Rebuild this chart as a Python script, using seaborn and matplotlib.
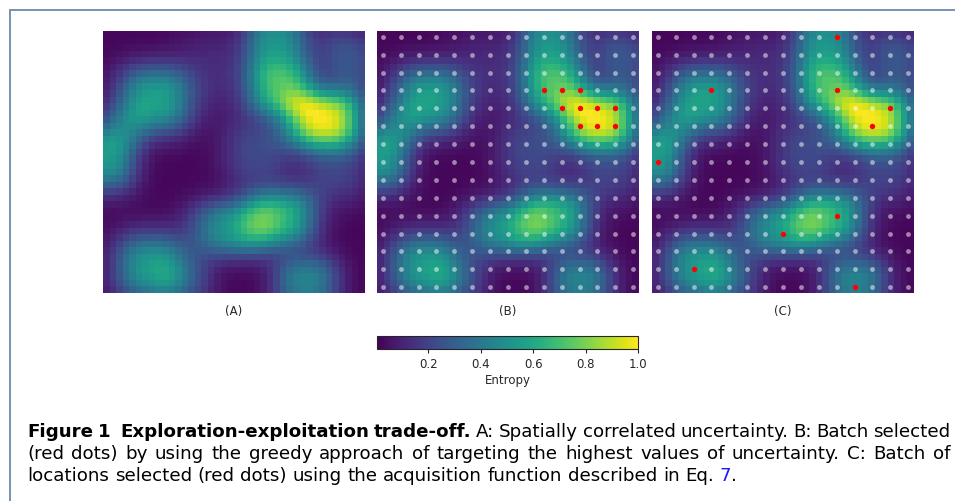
import numpy as np
import matplotlib
matplotlib.use("Agg")
import matplotlib.pyplot as plt
import seaborn as sns
from matplotlib.lines import Line2D

# ---------------- data ----------------
grid_size = 40  # heatmap cells per side

# smooth entropy field, described by the bumps seen in the picture
# (cell units, origin at top-left)
bump_col = [33.8, 27.0, 26.3, 7.9, 0.3, 27.0, 19.5, 7.2, 31.0, 35.5, 38.5, 3.0, 12.5, 23.5, 18.0, 33.5]
bump_row = [13.5, 8.8, 1.5, 10.5, 19.5, 28.5, 30.2, 36.0, 38.3, 21.0, 5.0, 14.5, 38.0, 18.5, 6.0, 3.0]
bump_height = [0.93, 0.60, 0.47, 0.54, 0.50, 0.60, 0.47, 0.50, 0.42, 0.18, 0.20, 0.14, 0.18, 0.20, 0.10, 0.12]
bump_spread_col = [4.5, 3.8, 3.4, 4.3, 3.6, 4.2, 4.6, 4.2, 3.8, 4.0, 3.0, 3.0, 3.5, 4.0, 5.0, 3.5]
bump_spread_row = [3.4, 3.2, 3.8, 4.0, 3.8, 3.4, 3.3, 4.0, 3.2, 4.0, 4.0, 3.0, 3.0, 4.0, 5.0, 3.5]
bump_shape = 2.5
background_entropy = 0.02

n_candidates = 15  # 15 x 15 candidate locations
greedy_cols = [9, 10, 11, 10, 11, 12, 13, 11, 12, 13]
greedy_rows = [3, 3, 3, 4, 4, 4, 4, 5, 5, 5]
acq_cols = [10, 3, 10, 13, 12, 0, 10, 7, 2, 11]
acq_rows = [0, 3, 3, 4, 5, 7, 10, 11, 13, 14]

panel_labels = ["(A)", "(B)", "(C)"]
cbar_ticks = [0.2, 0.4, 0.6, 0.8, 1.0]
cbar_label = "Entropy"

caption_bold = ["Figure", "1", "Exploration-exploitation", "trade-off."]
caption_line1 = "A: Spatially correlated uncertainty. B: Batch selected"
caption_line2 = "(red dots) by using the greedy approach of targeting the highest values of uncertainty. C: Batch of"
caption_line3 = "locations selected (red dots) using the acquisition function described in Eq."
caption_ref = "7"

# ---------------- build field ----------------
cc = np.arange(grid_size) + 0.5
X, Y = np.meshgrid(cc, cc)
field = np.full((grid_size, grid_size), background_entropy)
for c, r, h, sc, sr in zip(bump_col, bump_row, bump_height, bump_spread_col, bump_spread_row):
    field += h * np.exp(-0.5 * (np.abs((X - c) / sc) ** bump_shape + np.abs((Y - r) / sr) ** bump_shape))

# ---------------- figure ----------------
sns.set_style("white")
plt.rcParams["font.family"] = ["DejaVu Sans"]
W, H = 955, 501
fig = plt.figure(figsize=(W / 100, H / 100), dpi=100)


def px_rect(x0, y0, x1, y1):
    return [x0 / W, 1 - y1 / H, (x1 - x0) / W, (y1 - y0) / H]


panel_x = [(103, 365), (377, 639), (652, 914)]
py0, py1 = 31, 293
vmin, vmax = 0.004, 1.0

axes = []
for k, (x0, x1) in enumerate(panel_x):
    ax = fig.add_axes(px_rect(x0, py0, x1, py1))
    sns.heatmap(field, ax=ax, cmap="viridis", vmin=vmin, vmax=vmax, cbar=False,
                xticklabels=False, yticklabels=False, rasterized=True)
    ax.set_xlim(0, grid_size)
    ax.set_ylim(grid_size, 0)
    for s in ax.spines.values():
        s.set_visible(False)
    fig.text((x0 + x1) / 2 / W, 1 - 311 / H, panel_labels[k], ha="center", va="center", fontsize=8.5)
    axes.append(ax)

# candidate grid positions in heatmap units
margin = 0.88
step = (grid_size - 2 * margin) / (n_candidates - 1)
gi, gj = np.meshgrid(np.arange(n_candidates), np.arange(n_candidates))
cand_x = margin + gi.ravel() * step
cand_y = margin + gj.ravel() * step

for ax, cols, rows in [(axes[1], greedy_cols, greedy_rows), (axes[2], acq_cols, acq_rows)]:
    ax.scatter(cand_x, cand_y, s=12, color="white", alpha=0.5, linewidths=0, zorder=3)
    ax.scatter(margin + np.array(cols) * step, margin + np.array(rows) * step,
               s=15, color="red", linewidths=0, zorder=4)

# colorbar
cax = fig.add_axes(px_rect(377, 336, 638, 349))
cb = fig.colorbar(axes[0].collections[0], cax=cax, orientation="horizontal", ticks=cbar_ticks)
cb.ax.tick_params(labelsize=8.5, length=3, width=0.8)
cb.set_label(cbar_label, fontsize=8.5, labelpad=2)
cb.outline.set_linewidth(0.8)

# frame lines
frame_col = "#7890b2"
fig.add_artist(Line2D([10 / W, 1.0], [1 - 10 / H, 1 - 10 / H], transform=fig.transFigure,
                      color=frame_col, lw=1.4))
fig.add_artist(Line2D([10 / W, 10 / W], [1 - 10 / H, 0.0], transform=fig.transFigure,
                      color=frame_col, lw=1.4))

# ---------------- caption ----------------
cap_font = ["DejaVu Sans"]
fig.canvas.draw()
renderer = fig.canvas.get_renderer()


def measure(txt, size, weight="normal"):
    t = fig.text(0, 0, txt, fontsize=size, fontweight=weight, family=cap_font)
    w = t.get_window_extent(renderer).width
    t.remove()
    return w


def tokens_of(text, weight="normal", color="black"):
    return [(w, weight, color, 1.0) for w in text.split()]


line1 = [(w, "bold", "black", 1.0) for w in caption_bold]
line1[2] = (line1[2][0], "bold", "black", 2.2)
line1 += tokens_of(caption_line1)
line2 = tokens_of(caption_line2)
line3 = tokens_of(caption_line3) + [(caption_ref, "normal", "#1a1aff", 1.0), (".", "normal", "black", 0.0)]

X0, X1 = 27, 950


def natural_width(tokens, size):
    sp = measure("a a", size) - measure("aa", size)
    ws = sum(measure(t[0], size, t[1]) for t in tokens)
    return ws + sp * sum(t[3] for t in tokens[1:])


base_size = 10.0
nw = natural_width(line3, base_size)
cap_size = 0.97 * base_size * (762 - X0) / nw


def place(tokens, baseline, justify):
    size = cap_size
    widths = [measure(t[0], size, t[1]) for t in tokens]
    units = sum(t[3] for t in tokens[1:])
    if justify:
        unit = (X1 - X0 - sum(widths)) / units
    else:
        unit = measure("a a", size) - measure("aa", size)
    x = X0
    for i, (w, wt, col, g) in enumerate(tokens):
        if i > 0:
            x += g * unit
        fig.text(x / W, 1 - baseline / H, w, fontsize=size, fontweight=wt, color=col,
                 family=cap_font, ha="left", va="baseline")
        x += widths[i]


place(line1, 437, True)
place(line2, 459, True)
place(line3, 481, False)

fig.savefig("out.png", dpi=100)
